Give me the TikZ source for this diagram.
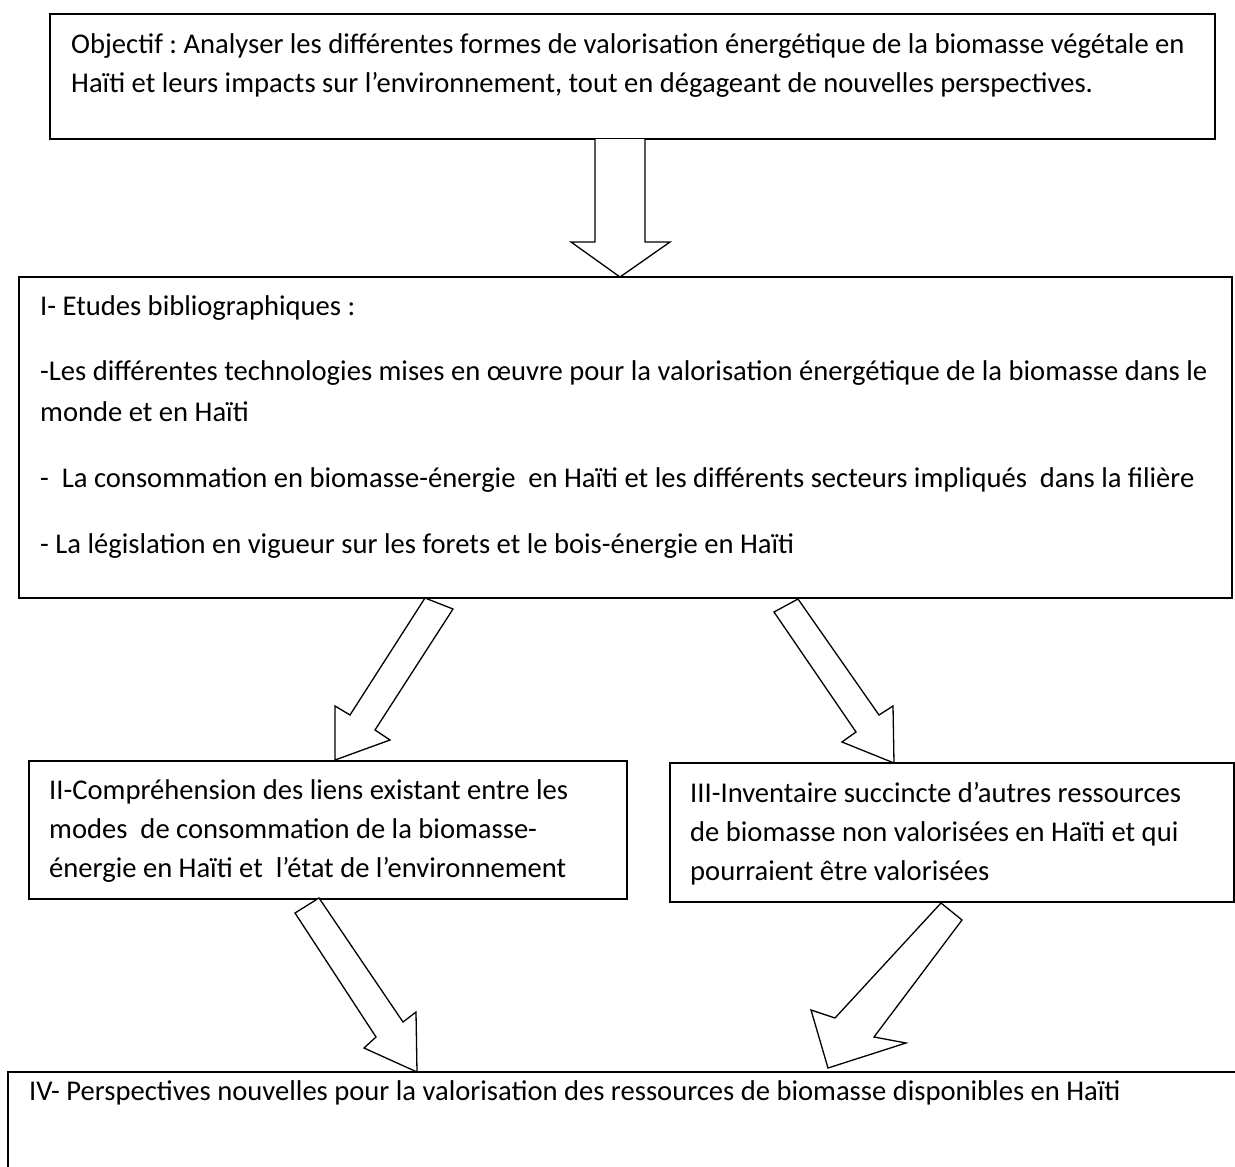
\documentclass[tikz,border=0pt]{standalone}
\usepackage{fontspec}
\setmainfont{Carlito}
\frenchspacing
\usetikzlibrary{calc}
\begin{document}
\begin{tikzpicture}[x=1pt,y=-1pt,
  box/.style={draw=black, line width=1.5pt, rectangle, inner sep=0pt, outer sep=0pt, anchor=north west},
  txt/.style={anchor=base west, inner sep=0pt, font=\fontsize{28.6}{40}\selectfont},
  blockarr/.style={draw=black, fill=white, line width=1.3pt, line join=miter}]
\useasboundingbox (0,0) rectangle (1235,1167);
\clip (0,0) rectangle (1235,1167);

% boxes
\node[box, minimum width=1165pt, minimum height=125pt] (obj) at (50,14) {};
\node[box, minimum width=1213pt, minimum height=321pt] (etu) at (19,277) {};
\node[box, minimum width=598pt, minimum height=138pt] (comp) at (29,761) {};
\node[box, minimum width=564pt, minimum height=139pt] (inv) at (670,763) {};
\node[box, minimum width=1250pt, minimum height=140pt] (persp) at (8,1072) {};

% texts
\node[txt] (t1a) at (71,53) {Objectif : Analyser les différentes formes de valorisation énergétique de la biomasse végétale en};
\node[txt] (t1b) at (71,92) {Haïti et leurs impacts sur l’environnement, tout en dégageant de nouvelles perspectives.};

\node[txt] (t2a) at (40,315) {I- Etudes bibliographiques :};
\node[txt] (t2b) at (40,380) {-Les différentes technologies mises en œuvre pour la valorisation énergétique de la biomasse dans le};
\node[txt] (t2c) at (40,421) {monde et en Haïti};
\node[txt] (t2d) at (40,487) {-\ \ La consommation en biomasse-énergie\ \ en Haïti et les différents secteurs impliqués\ \ dans la filière};
\node[txt] (t2e) at (40,553) {- La législation en vigueur sur les forets et le bois-énergie en Haïti};

\node[txt] (t3a) at (49,799) {II-Compréhension des liens existant entre les};
\node[txt] (t3b) at (49,838) {modes\ \ de consommation de la biomasse-};
\node[txt] (t3c) at (49,877) {énergie en Haïti et\ \ l’état de l’environnement};

\node[txt] (t4a) at (690,802) {III-Inventaire succincte d’autres ressources};
\node[txt] (t4b) at (690,841) {de biomasse non valorisées en Haïti et qui};
\node[txt] (t4c) at (690,880) {pourraient être valorisées};

\node[txt] (t5a) at (29,1100) {IV- Perspectives nouvelles pour la valorisation des ressources de biomasse disponibles en Haïti};

% block arrows: tail (on the upper box) and tip (on the lower box)
\coordinate (a1t) at (620,139);   \coordinate (a1h) at (620,277);
\coordinate (a2t) at (425,598);   \coordinate (a2h) at (335,760);
\coordinate (a3t) at (798,599);   \coordinate (a3h) at (894,763);
\coordinate (a4t) at (319,898);   \coordinate (a4h) at (417,1072);
\coordinate (a5t) at (941,903);   \coordinate (a5h) at (828,1068);

\draw[blockarr] (595,139) -- (595,242) -- (571,242) -- (a1h) -- (670,242) -- (645,242) -- (645,139);
\draw[blockarr] (a2t) -- (350,715) -- (335,706) -- (a2h) -- (390,740) -- (375,730) -- (453,609) -- cycle;
\draw[blockarr] (a3t) -- (879,715) -- (893,706) -- (a3h) -- (842,742) -- (856,732) -- (774,612) -- cycle;
\draw[blockarr] (a4t) -- (403,1022) -- (416,1012) -- (a4h) -- (364,1048) -- (376,1037) -- (295,913) -- cycle;
\draw[blockarr] (a5t) -- (962,920) -- (874,1037) -- (906,1043) -- (a5h) -- (811,1010) -- (835,1018) -- cycle;
\end{tikzpicture}
\end{document}
